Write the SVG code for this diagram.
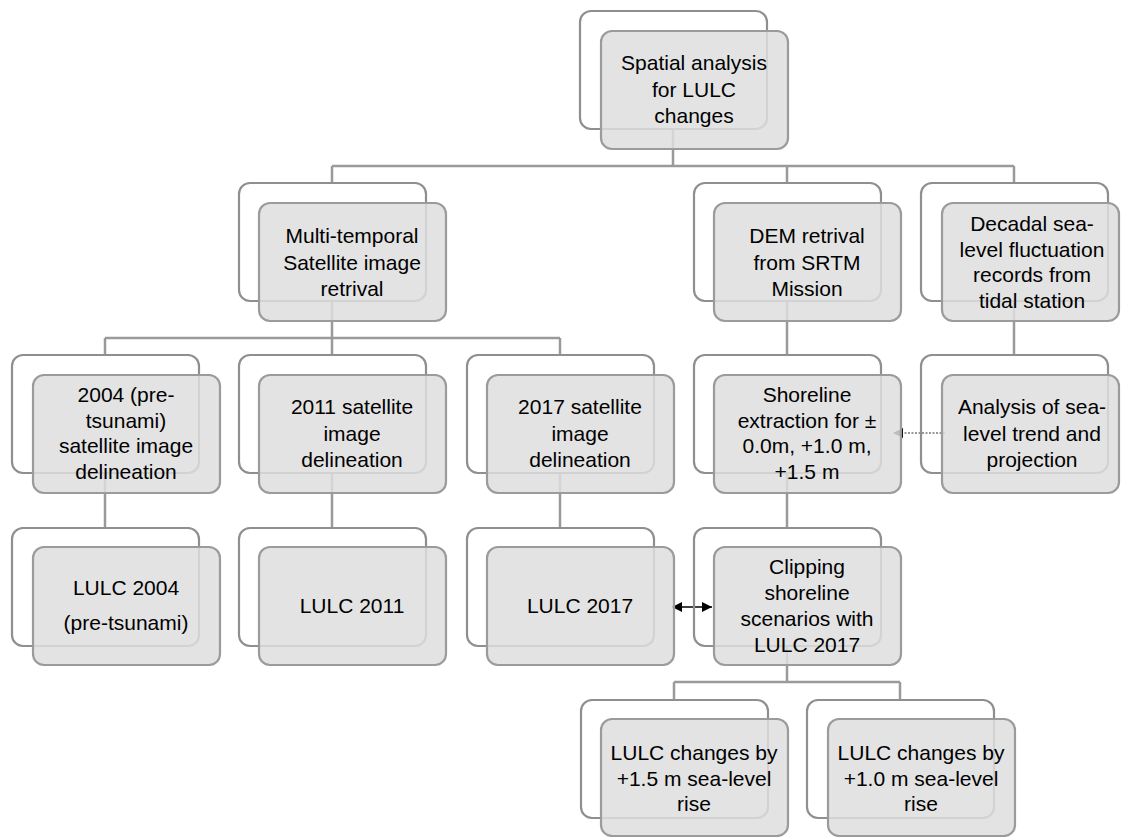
<svg xmlns="http://www.w3.org/2000/svg" width="1121" height="837" viewBox="0 0 1121 837">
<style>
.back{fill:none;stroke:#8f8f8f;stroke-width:2.2}
.front{fill:#dedede;fill-opacity:0.85;stroke:#9b9b9b;stroke-width:2.2}
.conn{stroke:#9a9a9a;stroke-width:2.5;fill:none}
text{font-family:"Liberation Sans",Arial,sans-serif;font-size:21px;fill:#000;text-anchor:middle}
</style>
<defs>
<marker id="ah" viewBox="0 0 10 10" refX="10" refY="5" markerWidth="10" markerHeight="10" markerUnits="userSpaceOnUse" orient="auto-start-reverse">
<path d="M0,0 L10,5 L0,10 z" fill="#000"/>
</marker>
</defs>
<rect width="1121" height="837" fill="#fff"/>
<g id="connectors">
<path class="conn" d="M673,129 V166 M332,166 H1014 M332,166 V183 M787,166 V183 M1014,166 V183"/>
<path class="conn" d="M332,301 V338 M105,338 H560 M105,338 V355 M332,338 V355 M560,338 V355"/>
<path class="conn" d="M787,301 V355 M1014,301 V355"/>
<path class="conn" d="M105,473 V528 M332,473 V528 M560,473 V528 M787,473 V528"/>
<path class="conn" d="M787,646 V682 M674,682 H900 M674,682 V700 M900,682 V700"/>
<line x1="945" y1="433" x2="893" y2="433" stroke="#333" stroke-width="1" stroke-dasharray="2,1.5" marker-end="url(#ah)"/>
<line x1="672" y1="607" x2="712" y2="607" stroke="#000" stroke-width="1.6" marker-start="url(#ah)" marker-end="url(#ah)"/>
</g>
<g id="n-top">
<rect class="back" x="580" y="11" width="187" height="118" rx="11"/>
<rect class="front" x="601" y="31" width="187" height="118" rx="11"/>
<text x="694" y="70">Spatial analysis</text>
<text x="694" y="96.5">for LULC</text>
<text x="694" y="123">changes</text>
</g>
<g id="n-multi">
<rect class="back" x="239" y="183" width="187" height="118" rx="11"/>
<rect class="front" x="259" y="203" width="187" height="118" rx="11"/>
<text x="352" y="243">Multi-temporal</text>
<text x="352" y="269.5">Satellite image</text>
<text x="352" y="296">retrival</text>
</g>
<g id="n-dem">
<rect class="back" x="694" y="183" width="187" height="118" rx="11"/>
<rect class="front" x="714" y="203" width="187" height="118" rx="11"/>
<text x="807" y="243">DEM retrival</text>
<text x="807" y="269.5">from SRTM</text>
<text x="807" y="296">Mission</text>
</g>
<g id="n-decadal">
<rect class="back" x="921" y="183" width="187" height="118" rx="11"/>
<rect class="front" x="942" y="203" width="177" height="118" rx="11"/>
<text x="1032" y="231">Decadal sea-</text>
<text x="1032" y="256.5">level fluctuation</text>
<text x="1032" y="282">records from</text>
<text x="1032" y="307.5">tidal station</text>
</g>
<g id="n-2004">
<rect class="back" x="12" y="355" width="187" height="118" rx="11"/>
<rect class="front" x="33" y="375" width="187" height="118" rx="11"/>
<text x="126" y="402">2004 (pre-</text>
<text x="126" y="427.5">tsunami)</text>
<text x="126" y="453">satellite image</text>
<text x="126" y="478.5">delineation</text>
</g>
<g id="n-2011">
<rect class="back" x="239" y="355" width="187" height="118" rx="11"/>
<rect class="front" x="259" y="375" width="187" height="118" rx="11"/>
<text x="352" y="414">2011 satellite</text>
<text x="352" y="440.5">image</text>
<text x="352" y="467">delineation</text>
</g>
<g id="n-2017">
<rect class="back" x="467" y="355" width="187" height="118" rx="11"/>
<rect class="front" x="487" y="375" width="187" height="118" rx="11"/>
<text x="580" y="414">2017 satellite</text>
<text x="580" y="440.5">image</text>
<text x="580" y="467">delineation</text>
</g>
<g id="n-shoreline">
<rect class="back" x="694" y="355" width="187" height="118" rx="11"/>
<rect class="front" x="714" y="375" width="187" height="118" rx="11"/>
<text x="807" y="402">Shoreline</text>
<text x="807" y="427.5">extraction for ±</text>
<text x="807" y="453">0.0m, +1.0 m,</text>
<text x="807" y="478.5">+1.5 m</text>
</g>
<g id="n-analysis">
<rect class="back" x="921" y="355" width="187" height="118" rx="11"/>
<rect class="front" x="942" y="375" width="177" height="118" rx="11"/>
<text x="1032" y="414">Analysis of sea-</text>
<text x="1032" y="440.5">level trend and</text>
<text x="1032" y="467">projection</text>
</g>
<g id="n-lulc2004">
<rect class="back" x="12" y="528" width="187" height="118" rx="11"/>
<rect class="front" x="33" y="547" width="187" height="118" rx="11"/>
<text x="126" y="595">LULC 2004</text>
<text x="126" y="630">(pre-tsunami)</text>
</g>
<g id="n-lulc2011">
<rect class="back" x="239" y="528" width="187" height="118" rx="11"/>
<rect class="front" x="259" y="547" width="187" height="118" rx="11"/>
<text x="352" y="613">LULC 2011</text>
</g>
<g id="n-lulc2017">
<rect class="back" x="467" y="528" width="187" height="118" rx="11"/>
<rect class="front" x="487" y="547" width="187" height="118" rx="11"/>
<text x="580" y="613">LULC 2017</text>
</g>
<g id="n-clipping">
<rect class="back" x="694" y="528" width="187" height="118" rx="11"/>
<rect class="front" x="714" y="547" width="187" height="118" rx="11"/>
<text x="807" y="574">Clipping</text>
<text x="807" y="600">shoreline</text>
<text x="807" y="626">scenarios with</text>
<text x="807" y="652">LULC 2017</text>
</g>
<g id="n-lulc15">
<rect class="back" x="581" y="700" width="187" height="118" rx="11"/>
<rect class="front" x="601" y="719" width="187" height="117" rx="11"/>
<text x="694" y="760">LULC changes by</text>
<text x="694" y="786">+1.5 m sea-level</text>
<text x="694" y="811">rise</text>
</g>
<g id="n-lulc10">
<rect class="back" x="807" y="700" width="187" height="118" rx="11"/>
<rect class="front" x="828" y="719" width="187" height="117" rx="11"/>
<text x="921" y="760">LULC changes by</text>
<text x="921" y="786">+1.0 m sea-level</text>
<text x="921" y="811">rise</text>
</g>
</svg>
